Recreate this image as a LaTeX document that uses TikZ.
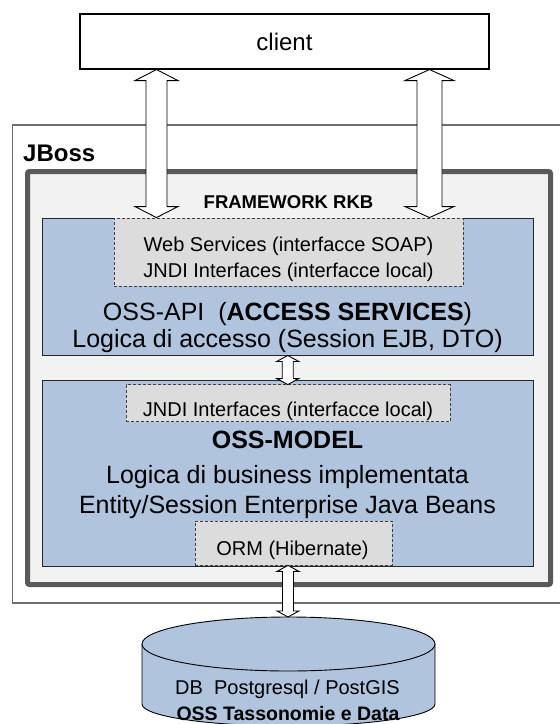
\documentclass[tikz,border=0pt]{standalone}
\usepackage{fontspec}
\setmainfont{Liberation Sans}
\usetikzlibrary{calc}
\definecolor{apiblue}{RGB}{176,196,222}
\definecolor{dashfill}{RGB}{220,220,220}
\definecolor{fwfill}{RGB}{242,242,242}
\definecolor{fwborder}{RGB}{89,89,89}
\definecolor{jbborder}{RGB}{110,110,110}
\newcommand{\hollowdbl}[5]{%
  \draw[hollowarrow] let \p1=(#1), \p2=(#2) in
    (\x1,\y1) -- (\x1+#4,\y1-#5) -- (\x1+#3,\y1-#5) -- (\x1+#3,\y2+#5)
    -- (\x1+#4,\y2+#5) -- (\x1,\y2) -- (\x1-#4,\y2+#5) -- (\x1-#3,\y2+#5)
    -- (\x1-#3,\y1-#5) -- (\x1-#4,\y1-#5) -- cycle;}
\tikzset{
  hollowarrow/.style={draw=black, fill=white, line width=0.9pt, line join=miter},
  layerbox/.style={draw=black!85, fill=apiblue, line width=0.9pt, inner sep=0pt},
  ifacebox/.style={draw=black!75, fill=dashfill, dash pattern=on 3pt off 2pt, line width=0.8pt, inner sep=0pt},
  small/.style={font=\fontsize{20pt}{24pt}\selectfont, anchor=base, inner sep=0pt},
  large/.style={font=\fontsize{25pt}{30pt}\selectfont, anchor=base, inner sep=0pt},
}
\begin{document}
\begin{tikzpicture}[x=1pt,y=-1pt]
\useasboundingbox (0,0) rectangle (560,724);
\clip (0,0) rectangle (560,724);
% JBoss container
\node[draw=jbborder, line width=1.4pt, fill=white, minimum width=566pt, minimum height=478pt, inner sep=0pt] (jboss) at (295.5,364) {};
\node[anchor=base west, inner sep=0pt, font=\bfseries\fontsize{24pt}{28pt}\selectfont] (jbosslbl) at (23,161) {JBoss};
% Framework container
\node[draw=fwborder, line width=5pt, fill=fwfill, rounded corners=2pt, minimum width=523pt, minimum height=413pt, inner sep=0pt] (fw) at (289,378) {};
\node[anchor=base, inner sep=0pt, font=\bfseries\fontsize{18.5pt}{22pt}\selectfont] (fwlbl) at (288.5,208) {FRAMEWORK RKB};
% OSS-API layer
\node[layerbox, minimum width=491.5pt, minimum height=137pt] (api) at (287.75,286.5) {};
\node[ifacebox, minimum width=349pt, minimum height=68pt] (apiif) at (288.5,252) {};
\node[small] (ws) at (288.5,251) {Web Services (interfacce SOAP)};
\node[small] (jndi1) at (288.5,277) {JNDI Interfaces (interfacce local)};
\node[large] (apititle) at (287.5,320) {OSS-API\ \ (\textbf{ACCESS SERVICES})};
\node[large] (apidesc) at (287.5,347) {Logica di accesso (Session EJB, DTO)};
% OSS-MODEL layer
\node[layerbox, minimum width=491.5pt, minimum height=186pt] (model) at (287.75,473) {};
\node[ifacebox, minimum width=324pt, minimum height=37pt] (modelif) at (288,403) {};
\node[small] (jndi2) at (288,416) {JNDI Interfaces (interfacce local)};
\node[large, font=\bfseries\fontsize{25pt}{30pt}\selectfont] (modeltitle) at (287.5,448) {OSS-MODEL};
\node[large] (modeldesc1) at (287.5,483) {Logica di business implementata};
\node[large] (modeldesc2) at (287.5,513) {Entity/Session Enterprise Java Beans};
\node[ifacebox, minimum width=197pt, minimum height=44pt] (orm) at (293.5,543) {};
\node[small] (ormtxt) at (292.5,555) {ORM (Hibernate)};
% client
\node[draw=black, line width=1.1pt, fill=white, minimum width=409pt, minimum height=55pt, inner sep=0pt, font=\fontsize{24pt}{28pt}\selectfont] (client) at (284.5,41.5) {client};
% database cylinder
\fill[apiblue] (142,644) -- (142,704) arc[start angle=180, end angle=360, x radius=146.5pt, y radius=22pt] -- (435,644) -- cycle;
\draw[line width=0.9pt] (142,644) -- (142,704) arc[start angle=180, end angle=360, x radius=146.5pt, y radius=22pt] -- (435,644);
\draw[fill=apiblue, line width=0.9pt] (288.5,644) ellipse [x radius=146.5pt, y radius=27pt];
\coordinate (dbtop) at (288.5,617);
\node[anchor=base, inner sep=0pt, font=\fontsize{20pt}{24pt}\selectfont] (dbname) at (287.5,694) {DB\ \ Postgresql / PostGIS};
\node[anchor=base, inner sep=0pt, font=\bfseries\fontsize{19.5pt}{23pt}\selectfont] (dbdata) at (288,720.5) {OSS Tassonomie e Data};
% connectors
\coordinate (la1) at (client.south -| 156.5,0);
\coordinate (la2) at (api.north -| 156.5,0);
\coordinate (ra1) at (client.south -| 429.5,0);
\coordinate (ra2) at (api.north -| 429.5,0);
\coordinate (mb) at ($(model.north)+(0,5)$);
\coordinate (ormb) at (orm.south -| 288,0);
\hollowdbl{la1}{la2}{10.5pt}{21.5pt}{11pt}
\hollowdbl{ra1}{ra2}{12.5pt}{24.5pt}{11pt}
\hollowdbl{api.south}{mb}{5.5pt}{11pt}{6pt}
\hollowdbl{ormb}{dbtop}{5.5pt}{11pt}{6pt}
\end{tikzpicture}
\end{document}
